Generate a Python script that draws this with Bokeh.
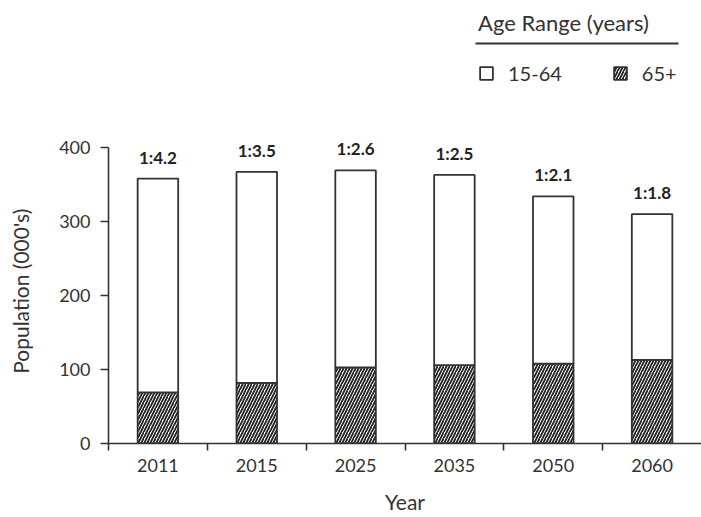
from bokeh.plotting import figure
from bokeh.models import (ColumnDataSource, FactorRange, LinearAxis, FixedTicker,
                          Legend, LegendItem, LabelSet, BoxAnnotation, Range1d)
from bokeh.core.properties import value
from bokeh.transform import stack
from bokeh.embed import file_html
from bokeh.resources import INLINE

# ---- data ----
years = ["2011", "2015", "2025", "2035", "2050", "2060"]
age_65_plus = [69, 82, 103, 106, 108, 113]
age_15_64 = [289, 285, 266, 257, 226, 197]
ratio_labels = ["1:4.2", "1:3.5", "1:2.6", "1:2.5", "1:2.1", "1:1.8"]
y_ticks = [0, 100, 200, 300, 400]

FONT = "Lato"
INK = "#333333"

totals = [a + b for a, b in zip(age_65_plus, age_15_64)]
source = ColumnDataSource(dict(year=years, age_65_plus=age_65_plus,
                               age_15_64=age_15_64, total=totals,
                               ratio=ratio_labels))

# the frame reaches the top of the canvas so that the legend and the ratio
# labels (drawn inside it) are not clipped; the y axis rule stops at 400
p = figure(width=701, height=517, x_range=FactorRange(*years),
           y_range=Range1d(0, 596),
           x_axis_type=None, output_backend="svg", toolbar_location=None,
           min_border_left=108, min_border_right=0, min_border_top=2,
           min_border_bottom=74)
p.outline_line_color = None
p.grid.visible = False
p.background_fill_color = "white"

bar_w = 0.41
r65 = p.vbar(x="year", bottom=0, top=stack("age_65_plus"), width=bar_w, source=source,
             fill_color="white", hatch_pattern="/", hatch_color="#222222",
             hatch_scale=6, hatch_weight=1.8, line_color=INK, line_width=1.8)
r1564 = p.vbar(x="year", bottom=stack("age_65_plus"),
               top=stack("age_65_plus", "age_15_64"), width=bar_w, source=source,
               fill_color="white", line_color=INK, line_width=1.8)

labels = LabelSet(x="year", y="total", text="ratio", source=source,
                  text_align="center", text_baseline="alphabetic", y_offset=15,
                  text_font=value(FONT), text_font_style="bold",
                  text_font_size="17px", text_color="#222222")
p.add_layout(labels)

# y axis (label padded with en spaces so it centres on the 0-400 rule,
# not on the taller frame)
yaxis = p.yaxis[0]
yaxis.ticker = FixedTicker(ticks=y_ticks)
yaxis.bounds = (0, 400)
yaxis.axis_label = "Population (000's)" + "\u2002" * 13
yaxis.major_tick_out = 8
yaxis.major_tick_in = 0
yaxis.major_label_standoff = 10
yaxis.axis_label_standoff = 23

# x axis: labels at category centres, small ticks at category boundaries
centers = [i + 0.5 for i in range(len(years))]
boundaries = [float(i) for i in range(len(years))]
xaxis = LinearAxis(ticker=FixedTicker(ticks=centers, minor_ticks=boundaries),
                   major_label_overrides={c: yr for c, yr in zip(centers, years)},
                   axis_label="Year")
xaxis.major_tick_line_color = None
xaxis.major_tick_out = 6
xaxis.major_tick_in = 0
xaxis.minor_tick_out = 7
xaxis.minor_tick_in = 0
xaxis.major_label_standoff = 8
xaxis.axis_label_standoff = 14
p.add_layout(xaxis, "below")

for ax in (xaxis, yaxis):
    ax.axis_line_color = INK
    ax.axis_line_width = 1.6
    ax.major_tick_line_width = 1.6
    ax.minor_tick_line_width = 1.6
    ax.major_label_text_font = FONT
    ax.major_label_text_font_size = "18px"
    ax.major_label_text_color = INK
    ax.axis_label_text_font = FONT
    ax.axis_label_text_font_size = "21px"
    ax.axis_label_text_font_style = "normal"
    ax.axis_label_text_color = INK
xaxis.minor_tick_line_color = INK
yaxis.minor_tick_line_color = None
yaxis.major_tick_line_color = INK

legend = Legend(items=[LegendItem(label="15-64", renderers=[r1564]),
                       LegendItem(label="65+", renderers=[r65])],
                title="Age Range (years)", orientation="horizontal",
                location=(370, 358))
legend.title_text_font = FONT
legend.title_text_font_size = "22px"
legend.title_text_font_style = "normal"
legend.title_text_color = INK
legend.title_standoff = 25
legend.label_text_font = FONT
legend.label_text_font_size = "20px"
legend.label_text_color = INK
legend.glyph_width = 16
legend.glyph_height = 16
legend.label_standoff = 14
legend.spacing = 50
legend.padding = 0
legend.margin = 0
legend.border_line_color = None
legend.background_fill_alpha = 0
p.add_layout(legend)

underline = BoxAnnotation(left=475, right=678, top=42, bottom=44,
                          left_units="canvas", right_units="canvas",
                          top_units="canvas", bottom_units="canvas",
                          fill_color=INK, fill_alpha=1, line_color=None)
p.add_layout(underline)

open("out.html", "w").write(file_html(p, INLINE))
